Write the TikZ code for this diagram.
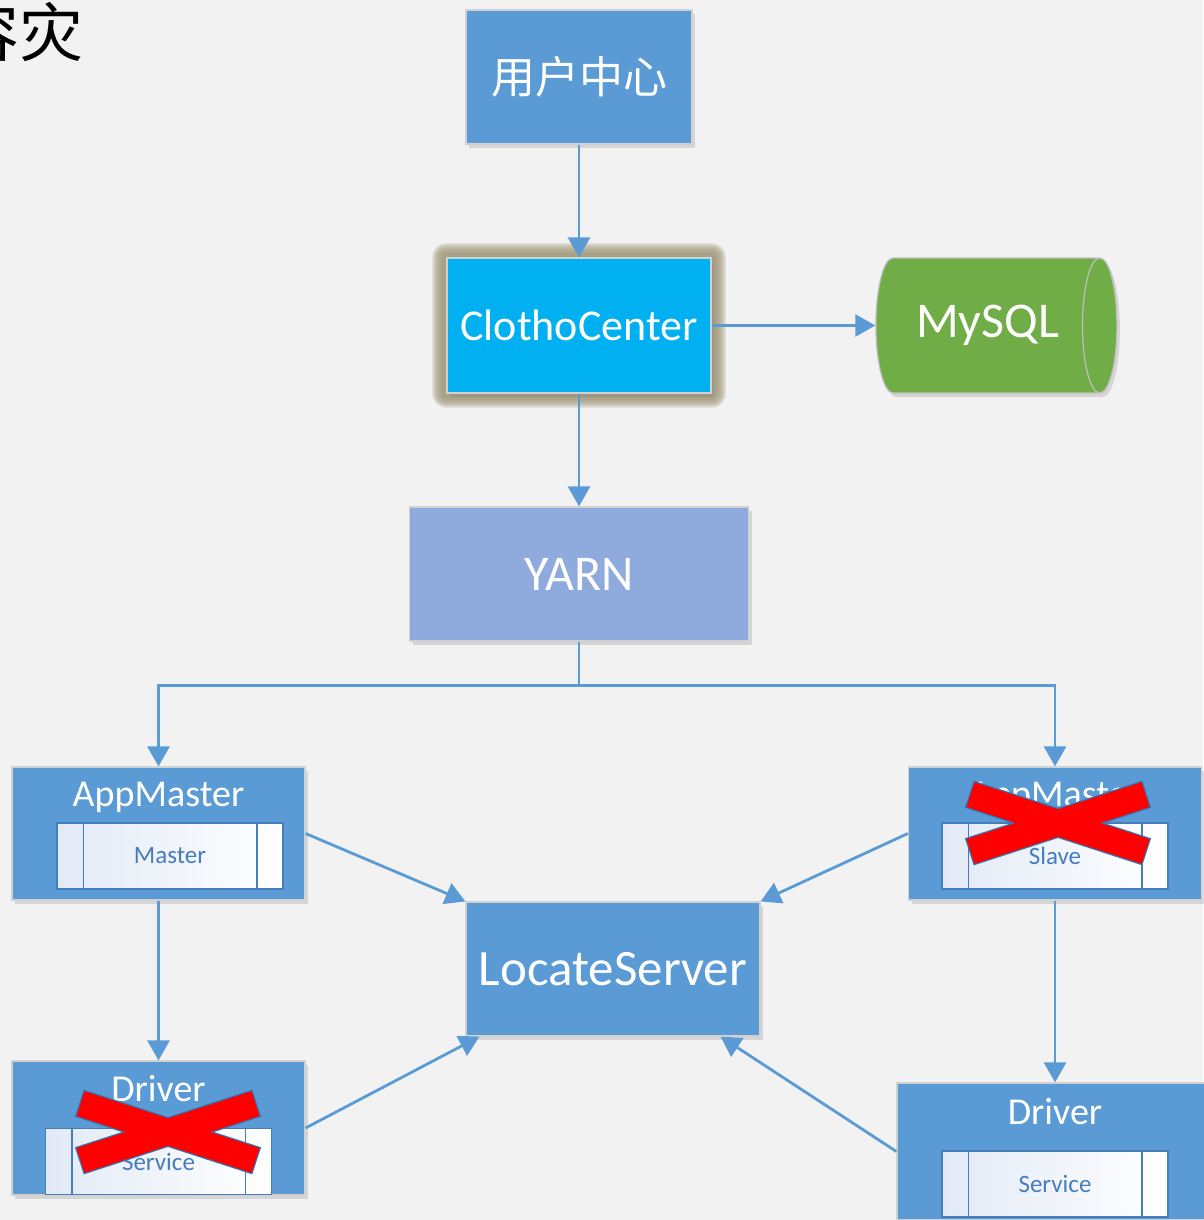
\documentclass[tikz,border=0pt]{standalone}
\usepackage{fontspec}
\setmainfont{Carlito}
\newfontfamily\cjk{Noto Sans CJK SC}
\usetikzlibrary{shapes.geometric}
\usetikzlibrary{shadows}
\usetikzlibrary{backgrounds}
\usetikzlibrary{arrows.meta}

\definecolor{bgray}{RGB}{242,242,242}
\definecolor{boxblue}{RGB}{91,155,213}
\definecolor{ccblue}{RGB}{0,176,240}
\definecolor{yarnblue}{RGB}{143,170,220}
\definecolor{sqlgreen}{RGB}{112,173,71}
\definecolor{glow}{RGB}{160,152,120}
\definecolor{procline}{RGB}{70,125,190}
\definecolor{procfill}{RGB}{226,234,246}
\definecolor{xborder}{RGB}{46,117,182}

\begin{document}
\begin{tikzpicture}[x=1pt,y=-1pt,->,>={Triangle[length=20pt,width=22pt]},
	link/.style={draw=boxblue,line width=2.8pt},
	main node/.style={rectangle,draw=black!18,line width=1.2pt,fill=boxblue,text=white,inner sep=0pt,
		drop shadow={opacity=0.25,shadow xshift=3pt,shadow yshift=-4pt}},
	app node/.style={main node,minimum width=293pt,minimum height=133pt},
	proc node/.style={rectangle,draw=procline,line width=1.5pt,left color=procfill,right color=white,
		text=procline,font=\fontsize{25}{25}\selectfont,minimum width=226pt,minimum height=66pt,inner sep=0pt},
	title/.style={text=white,font=\fontsize{38}{38}\selectfont,anchor=base,inner sep=0pt}]

	\useasboundingbox (0,0) rectangle (1203,1220);

	% top
	\node[main node,minimum width=226pt,minimum height=134pt,font=\cjk\fontsize{44}{44}\selectfont] (user) at (579,77) {用户中心};
	\node[main node,fill=ccblue,minimum width=264pt,minimum height=135pt,drop shadow={opacity=0},
		font=\fontsize{44}{44}\selectfont] (cc) at (579,325.5) {ClothoCenter};
	\node[cylinder,draw=black!25,line width=1.2pt,fill=sqlgreen,text=white,aspect=0.85,
		minimum width=135pt,minimum height=241pt,inner sep=0pt,
		drop shadow={opacity=0.25,shadow xshift=3pt,shadow yshift=-4pt},
		font=\fontsize{50}{50}\selectfont] (mysql) at (987.5,325.5) {MySQL};
	\node[main node,fill=yarnblue,minimum width=339pt,minimum height=134pt,
		font=\fontsize{50}{50}\selectfont] (yarn) at (579,574) {YARN};
	\node[main node,minimum width=294pt,minimum height=134pt,
		font=\fontsize{51}{51}\selectfont] (ls) at (613,969) {LocateServer};

	% application boxes
	\node[app node] (aml) at (158.5,833.5) {};
	\node[app node] (amr) at (1055,833.5) {};
	\node[app node,minimum height=134pt] (drl) at (158.5,1128) {};
	\node[app node,minimum width=316pt,minimum height=137pt] (drr) at (1055,1151.5) {};

	\node[title] at ([yshift=-40pt]aml.north) {AppMaster};
	\node[title] at ([yshift=-40pt]amr.north) {AppMaster};
	\node[title] at ([yshift=-41pt]drl.north) {Driver};
	\node[title] at ([yshift=-42pt]drr.north) {Driver};

	\node[proc node] (pm) at (170,856) {Master};
	\node[proc node] (ps) at (1055,856) {Slave};
	\node[proc node] (sl) at (158.5,1161.5) {Service};
	\node[proc node] (sr) at (1055,1184) {Service};
	\foreach \n in {pm,ps,sl,sr} {
		\draw[-,procline,line width=1.5pt] ([xshift=27pt]\n.north west) -- ([xshift=27pt]\n.south west);
		\draw[-,procline,line width=1.5pt] ([xshift=-27pt]\n.north east) -- ([xshift=-27pt]\n.south east);
	}

	% failed parts
	\foreach \cx/\cy in {1058/823,168/1132} {
		\begin{scope}[shift={(\cx,\cy)}]
			\foreach \a in {18,-18}
				\draw[xborder,line width=2.5pt] [rotate=\a] (-92,-13) rectangle (92,13);
			\foreach \a in {18,-18}
				\fill[red] [rotate=\a] (-92,-13) rectangle (92,13);
		\end{scope}
	}

	% connectors
	\draw[link] (user) -- (cc);
	\draw[link] (cc) -- (mysql);
	\draw[link] (cc) -- (yarn);
	\draw[link] (yarn.south) -- ++(0,44) -| (aml.north);
	\draw[link] (yarn.south) -- ++(0,44) -| (amr.north);
	\draw[link] (aml) -- (drl);
	\draw[link] (amr) -- (drr);
	\draw[link] (aml.east) -- (ls.north west);
	\draw[link] (amr.west) -- (ls.north east);
	\draw[link] (drl.east) -- ([xshift=14pt]ls.south west);
	\draw[link] (drr.west) -- ([xshift=-40pt]ls.south east);

	\node[font=\cjk\fontsize{64}{64}\selectfont,anchor=east,inner sep=0pt] (title) at (84,32) {容灾};

	\begin{scope}[on background layer]
		\fill[bgray] (0,0) rectangle (1203,1220);
		\foreach \d in {14,12,10,8,6,4}
			\fill[glow,opacity=0.3,rounded corners=\d pt] ([shift={(-\d,-\d)}]cc.north west) rectangle ([shift={(\d,\d)}]cc.south east);
	\end{scope}
\end{tikzpicture}
\end{document}
